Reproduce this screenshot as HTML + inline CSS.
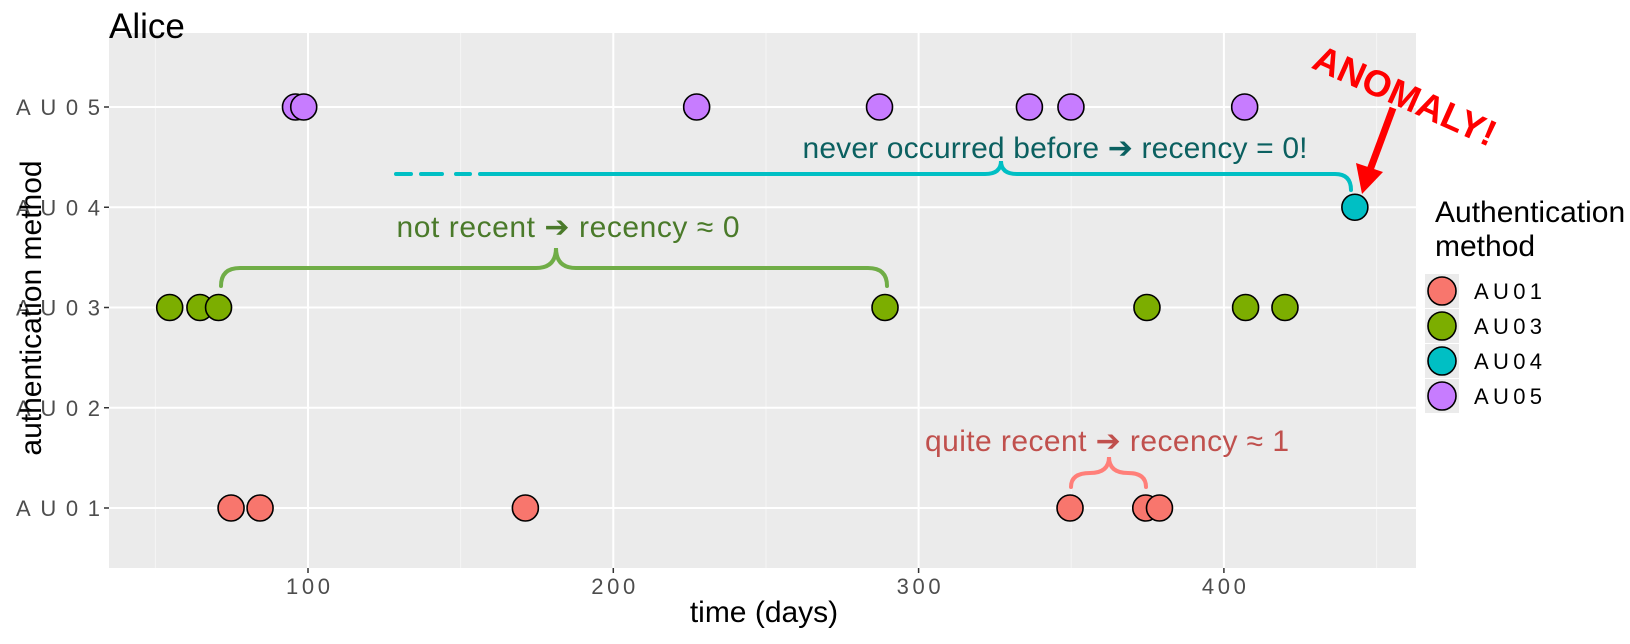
<!DOCTYPE html>
<html><head><meta charset="utf-8"><style>
body{margin:0;background:#fff;}
svg text{font-family:"Liberation Sans",sans-serif;}
</style></head><body>
<svg id="chart" width="1630" height="639" viewBox="0 0 1630 639">
<rect x="109" y="33" width="1307" height="535" fill="#ebebeb"/>
<g id="grid"></g>
<g id="annot">
 <g fill="none" stroke="#00bfc4" stroke-width="4" stroke-linecap="round">
  <path d="M396 174 H411 M421 174 H442 M456 174 H470"/>
  <path d="M480 174 H985 Q1001 174 1001 161 Q1001 174 1017 174 H1335 Q1351 174 1351 190"/>
 </g>
 <text x="1055" y="158" font-size="30" fill="#0b6060" text-anchor="middle" textLength="505">never occurred before ➔ recency = 0!</text>
 <path d="M221 286 Q221 268 240 268 H536 Q556 268 556 248 Q556 268 576 268 H868 Q887 268 887 286" fill="none" stroke="#70ad47" stroke-width="4" stroke-linecap="round"/>
 <text x="568" y="237" font-size="30" fill="#4a7a2a" text-anchor="middle" textLength="343">not recent ➔ recency ≈ 0</text>
 <path d="M1071 487 Q1071 473 1090 473 Q1109 473 1109 457 Q1109 473 1128 473 Q1146 473 1146 487" fill="none" stroke="#ff7f79" stroke-width="4" stroke-linecap="round"/>
 <text x="1107" y="451" font-size="30" fill="#c0504d" text-anchor="middle" textLength="364">quite recent ➔ recency ≈ 1</text>
 <text x="1403" y="108" font-size="37" font-weight="bold" fill="#ff0000" text-anchor="middle" transform="rotate(24 1403 100)">ANOMALY!</text>
 <line x1="1393" y1="108" x2="1370" y2="170" stroke="#ff0000" stroke-width="7"/>
 <polygon points="1362,194 1356,163 1383,172" fill="#ff0000"/>
</g>
<g id="points"></g>
<g id="axes"></g>
<text x="109" y="38" font-size="35" fill="#000">Alice</text>
<text x="764" y="622" font-size="30" fill="#000" text-anchor="middle">time (days)</text>
<text x="0" y="0" font-size="30" fill="#000" text-anchor="middle" transform="translate(41 308) rotate(-90)">authentication method</text>
<g id="legend">
 <text x="1435" y="222" font-size="30">Authentication</text>
 <text x="1435" y="256" font-size="30">method</text>
</g>
</svg>
<script>
const categories=["AU01","AU02","AU03","AU04","AU05"];
const xTicks=[100,200,300,400];
const legendKeys=["AU01","AU03","AU04","AU05"];
const au01Days=[74.8,84.3,171.2,349.6,374.4,378.9];
const au03Days=[54.7,64.6,70.7,289.0,374.8,407.1,420.0];
const au04Days=[442.9];
const au05Days=[95.9,98.6,227.3,287.2,336.3,349.9,406.8];
const colors={AU01:"#f8766d",AU03:"#7cae00",AU04:"#00bfc4",AU05:"#c77cff"};
const NS="http://www.w3.org/2000/svg";
const x=d=>308+(d-100)*3.053;
const y=c=>508-categories.indexOf(c)*100.25;
function mk(tag,attrs,parent){const e=document.createElementNS(NS,tag);for(const k in attrs)e.setAttribute(k,attrs[k]);parent.appendChild(e);return e;}
const grid=document.getElementById('grid'),axes=document.getElementById('axes'),pts=document.getElementById('points'),leg=document.getElementById('legend');
const minor=[50,150,250,350,450];
minor.forEach(v=>{const l=mk('line',{x1:x(v),x2:x(v),y1:33,y2:568,stroke:'#f5f5f5','stroke-width':1},grid);

});
xTicks.forEach(v=>{const l=mk('line',{x1:x(v),x2:x(v),y1:33,y2:568,stroke:'#fff','stroke-width':2},grid);


const t=mk('line',{x1:x(v),x2:x(v),y1:568,y2:573,stroke:'#333','stroke-width':1.5},axes);


const tx=mk('text',{x:x(v),y:594,'font-size':22,fill:'#4d4d4d','text-anchor':'middle',textLength:44},axes);
tx.textContent=v;

});
categories.forEach(c=>{const l=mk('line',{x1:109,x2:1416,y1:y(c),y2:y(c),stroke:'#fff','stroke-width':2},grid);


const t=mk('line',{x1:104,x2:109,y1:y(c),y2:y(c),stroke:'#333','stroke-width':1.5},axes);


const tx=mk('text',{x:100,y:y(c)+8,'font-size':22,fill:'#4d4d4d','text-anchor':'end',textLength:84},axes);
tx.textContent=c;

});
const series=[["AU01",au01Days],["AU03",au03Days],["AU04",au04Days],["AU05",au05Days]];
series.forEach(([c,days])=>days.forEach(d=>{const p=mk('circle',{cx:x(d),cy:y(c),r:13,fill:colors[c],stroke:'#000','stroke-width':1.6},pts);

}));
legendKeys.forEach((k,i)=>{const cy=291+i*35;
mk('rect',{x:1425,y:cy-17,width:34,height:34,fill:'#ebebeb'},leg);
const p=mk('circle',{cx:1442,cy:cy,r:14,fill:colors[k],stroke:'#000','stroke-width':1.6},leg);


const t=mk('text',{x:1474,y:cy+8,'font-size':22,textLength:68},leg);
t.textContent=k;

});
</script>
</body></html>
